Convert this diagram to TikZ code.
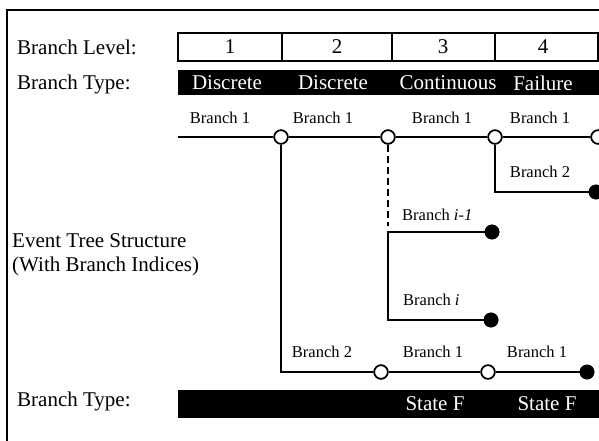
\documentclass[tikz,border=0pt]{standalone}
\usepackage{fontspec}
\setmainfont{Liberation Serif}
\begin{document}
\begin{tikzpicture}[x=1pt,y=-1pt,
  big/.style={font=\fontsize{21}{24}\selectfont, inner sep=0pt},
  small/.style={font=\fontsize{16.5}{19}\selectfont, inner sep=0pt},
  whitetxt/.style={big, text=white},
  open/.style={circle, draw, line width=1.6pt, fill=white, minimum width=12pt, minimum height=13.5pt, inner sep=0pt},
  solid/.style={circle, draw, line width=1.2pt, fill=black, minimum width=12pt, minimum height=13.5pt, inner sep=0pt},
  branch/.style={line width=1.8pt},
  cell/.style={line width=1.4pt}
]
\useasboundingbox (0,0) rectangle (599,440);
\clip (0,0) rectangle (599,440);
% frame
\draw[line width=2.2pt] (7,445) -- (7,10) -- (610,10);

% left labels
\node[big, anchor=west] (lvl) at (17,47) {Branch Level:};
\node[big, anchor=west] (typ) at (17,84) {Branch Type:};
\node[big, anchor=west, align=left] (ets) at (12,255) {Event Tree Structure\\(With Branch Indices)};
\node[big, anchor=west] (typ2) at (17,401) {Branch Type:};

% branch level box
\draw[cell] (178,33) rectangle (598,61);
\draw[cell] (282,33) -- (282,61);
\draw[line width=1.8pt] (392,33) -- (392,61);
\draw[cell] (495,33) -- (495,61);
\node[big] (l1) at (230,47) {1};
\node[big] (l2) at (337,47) {2};
\node[big] (l3) at (443,47) {3};
\node[big] (l4) at (543,47) {4};

% branch type bar
\fill[black] (178,70) rectangle (610,95);
\node[whitetxt] (t1) at (227,83) {Discrete};
\node[whitetxt] (t2) at (333,83) {Discrete};
\node[whitetxt] (t3) at (448,83) {Continuous};
\node[whitetxt] (t4) at (543,83) {Failure};

% bottom bar
\fill[black] (178,390) rectangle (610,418);
\node[whitetxt] (s1) at (435,404) {State F};
\node[whitetxt] (s2) at (547,404) {State F};

% tree nodes
\coordinate (start) at (178,137);
\node[open] (n1) at (281,137) {};
\node[open] (n2) at (388,137) {};
\node[open] (n3) at (495,137) {};
\node[open] (n4) at (598,137) {};
\node[open] (n5) at (381,372) {};
\node[open] (n6) at (488,372) {};
\node[solid] (n7) at (587,372) {};
\node[solid] (n8) at (596,192) {};
\node[solid] (n9) at (492,232) {};
\node[solid] (n10) at (491,320) {};
\coordinate (d1) at (388,226);
\coordinate (c2) at (388,232);
\coordinate (c3) at (388,320);

% connectors
\draw[branch] (start) -- (n1);
\draw[branch] (n1) -- (n2);
\draw[branch] (n2) -- (n3);
\draw[branch] (n3) -- (n4);
\draw[branch] (n1) |- (n5);
\draw[branch] (n5) -- (n6);
\draw[branch] (n6) -- (n7);
\draw[branch] (n3) |- (n8);
\draw[branch, dash pattern=on 7pt off 4pt] (n2) -- (d1);
\draw[branch] (n9) -- (c2) -- (c3) -- (n10);
% redraw circles on top
\foreach \n in {n1,n2,n3,n4,n5,n6}{\node[open] at (\n) {};}
\foreach \n in {n7,n8,n9,n10}{\node[solid] at (\n) {};}

% branch labels
\node[small] (b1) at (220,118) {Branch 1};
\node[small] (b2) at (323,118) {Branch 1};
\node[small] (b3) at (442,118) {Branch 1};
\node[small] (b4) at (540,118) {Branch 1};
\node[small] (b5) at (540,172) {Branch 2};
\node[small, anchor=west] (b6) at (402,215) {Branch \textit{i-1}};
\node[small, anchor=west] (b7) at (403,300) {Branch \textit{i}};
\node[small] (b8) at (322,352) {Branch 2};
\node[small] (b9) at (433,352) {Branch 1};
\node[small] (b10) at (537,352) {Branch 1};
\end{tikzpicture}
\end{document}
